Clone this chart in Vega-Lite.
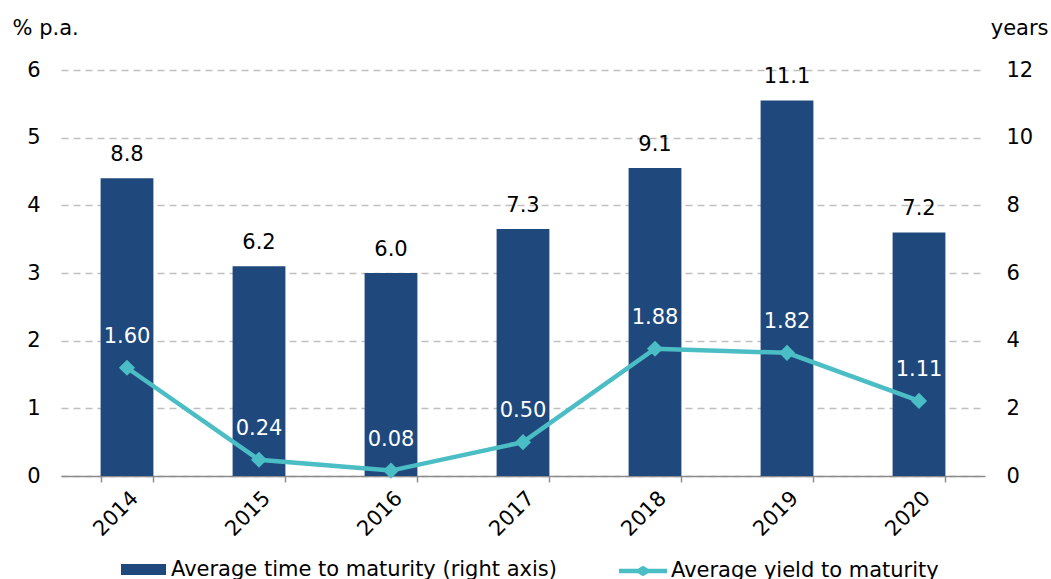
{
  "$schema": "https://vega.github.io/schema/vega-lite/v6.json",
  "width": 924,
  "height": 406,
  "autosize": "none",
  "padding": {"left": 61, "top": 70, "right": 66, "bottom": 103},
  "background": "white",
  "config": {
    "font": "DejaVu Sans",
    "view": {"stroke": null},
    "axis": {"labelFontSize": 21, "labelColor": "#000000", "titleFontSize": 21, "titleFontWeight": "normal", "titleColor": "#000000", "labelFont": "DejaVu Sans", "titleFont": "DejaVu Sans"},
    "legend": {"labelFontSize": 21, "labelColor": "#000000", "labelFont": "DejaVu Sans", "labelLimit": 0}
  },
  "data": {
    "values": [
      {"year": "2014", "ttm": 8.8, "yield": 1.60},
      {"year": "2015", "ttm": 6.2, "yield": 0.24},
      {"year": "2016", "ttm": 6.0, "yield": 0.08},
      {"year": "2017", "ttm": 7.3, "yield": 0.50},
      {"year": "2018", "ttm": 9.1, "yield": 1.88},
      {"year": "2019", "ttm": 11.1, "yield": 1.82},
      {"year": "2020", "ttm": 7.2, "yield": 1.11}
    ]
  },
  "encoding": {
    "x": {
      "field": "year",
      "type": "ordinal",
      "scale": {"paddingInner": 0.6, "paddingOuter": 0.3},
      "axis": {
        "title": null,
        "labelAngle": -45,
        "tickBand": "extent",
        "tickSize": 6,
        "domainColor": "#8c8c8c",
        "tickColor": "#8c8c8c",
        "domainWidth": 1.5,
        "tickWidth": 1.5,
        "labelPadding": 5
      }
    }
  },
  "layer": [
    {
      "encoding": {
        "y": {
          "field": "ttm",
          "type": "quantitative",
          "scale": {"domain": [0, 12]},
          "axis": {
            "orient": "right",
            "values": [0, 2, 4, 6, 8, 10, 12],
            "grid": false,
            "domain": false,
            "ticks": false,
            "labelPadding": 21,
            "title": "years",
            "titleAngle": 0,
            "titleAlign": "right",
            "titleBaseline": "middle",
            "titleX": 63,
            "titleY": -42
          }
        }
      },
      "layer": [
        {
          "mark": {"type": "bar"},
          "encoding": {
            "fill": {
              "datum": "Average time to maturity (right axis)",
              "scale": {"range": ["#1f497d"]},
              "legend": {
                "orient": "none",
                "legendX": 60,
                "legendY": 477,
                "title": null,
                "symbolType": "M-1,-0.24H1V0.24H-1Z",
                "symbolSize": 2025,
                "symbolStrokeWidth": 0,
                "labelOffset": 5,
                "padding": 0
              }
            }
          }
        },
        {
          "mark": {"type": "text", "dy": -23, "fontSize": 21, "color": "#000000", "baseline": "middle"},
          "encoding": {"text": {"field": "ttm", "type": "quantitative", "format": ".1f"}}
        }
      ]
    },
    {
      "encoding": {
        "y": {
          "field": "yield",
          "type": "quantitative",
          "scale": {"domain": [0, 6]},
          "axis": {
            "orient": "left",
            "values": [0, 1, 2, 3, 4, 5, 6],
            "grid": true,
            "gridColor": "#bfbfbf",
            "gridDash": [7, 5],
            "gridWidth": 1.5,
            "domain": false,
            "ticks": false,
            "labelPadding": 21,
            "title": "% p.a.",
            "titleAngle": 0,
            "titleAlign": "left",
            "titleBaseline": "middle",
            "titleX": -49,
            "titleY": -42
          }
        }
      },
      "layer": [
        {
          "mark": {"type": "line", "strokeWidth": 4.5},
          "encoding": {
            "stroke": {
              "datum": "Average yield to maturity",
              "scale": {"range": ["#4bbdc4"]},
              "legend": {
                "orient": "none",
                "legendX": 558,
                "legendY": 477,
                "title": null,
                "symbolType": "M-1,-0.09H-0.21L0,-0.22L0.21,-0.09H1V0.09H0.21L0,0.22L-0.21,0.09H-1Z",
                "symbolSize": 2304,
                "labelOffset": 4,
                "padding": 0,
                "encode": {"symbols": {"update": {"fill": {"value": "#4bbdc4"}, "strokeWidth": {"value": 0}}}}
              }
            }
          }
        },
        {
          "mark": {"type": "point", "shape": "diamond", "filled": true, "size": 260, "color": "#4bbdc4", "opacity": 1}
        },
        {
          "mark": {"type": "text", "dy": -31, "fontSize": 21, "color": "#ffffff", "baseline": "middle"},
          "encoding": {"text": {"field": "yield", "type": "quantitative", "format": ".2f"}}
        }
      ]
    }
  ],
  "resolve": {"scale": {"y": "independent"}}
}
